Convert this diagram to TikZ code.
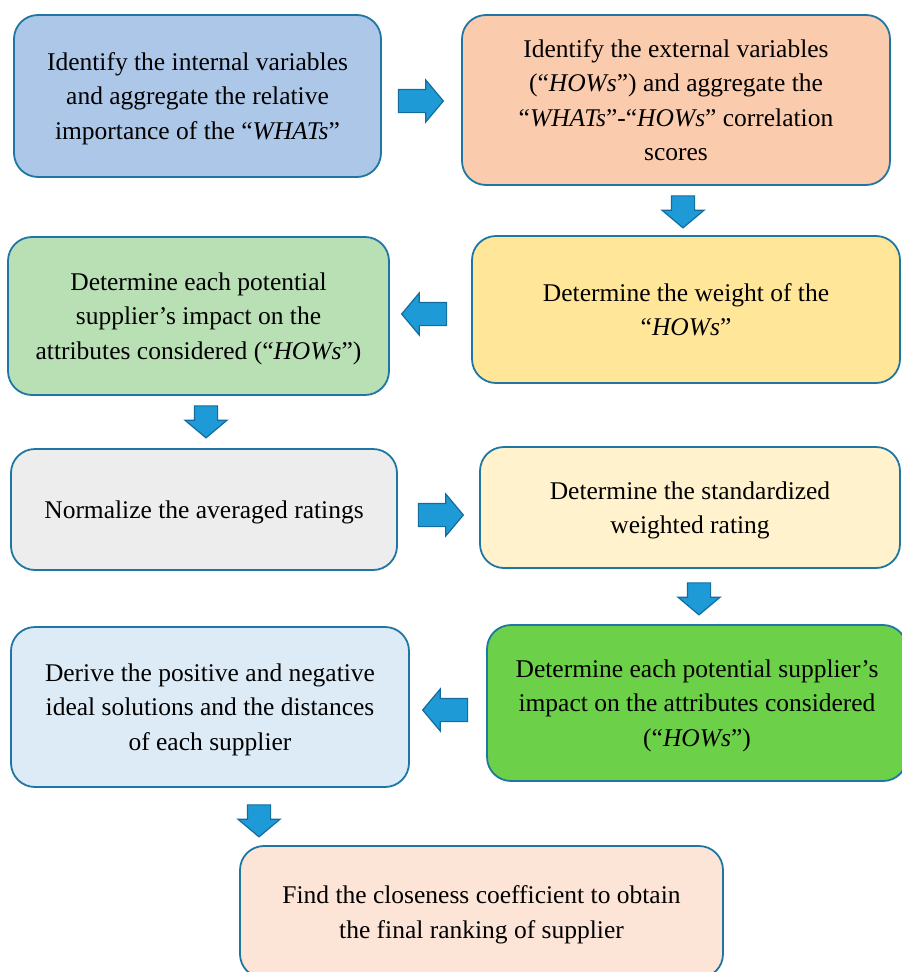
\documentclass[tikz,border=0pt]{standalone}
\usepackage{fontspec}
\setmainfont{Liberation Serif}
\usetikzlibrary{shapes.arrows}
\definecolor{edgeblue}{RGB}{30,118,163}
\definecolor{arrowfill}{RGB}{30,155,215}
\definecolor{arrowedge}{RGB}{20,108,158}
\definecolor{cwhats}{RGB}{173,199,232}
\definecolor{chows}{RGB}{251,203,173}
\definecolor{cimpact}{RGB}{185,224,180}
\definecolor{cweight}{RGB}{255,230,153}
\definecolor{cnorm}{RGB}{237,237,237}
\definecolor{cstand}{RGB}{255,242,204}
\definecolor{cimpacttwo}{RGB}{108,208,72}
\definecolor{cideal}{RGB}{221,235,247}
\definecolor{cclose}{RGB}{252,228,214}
\begin{document}
\begin{tikzpicture}[x=1pt,y=-1pt,
  stage/.style={draw=edgeblue, line width=1.8pt, rounded corners=24pt,
    align=center, inner sep=0pt, text depth=0pt, font=\fontsize{25.5}{34.5}\selectfont},
  blockarrow/.style={single arrow, fill=arrowfill, draw=arrowedge, line width=1.2pt,
    inner xsep=0pt, inner ysep=11pt, single arrow tip angle=100,
    single arrow head extend=9.5pt},
  rarrow/.style={blockarrow, minimum height=45pt},
  larrow/.style={blockarrow, minimum height=45pt, rotate=180},
  darrow/.style={blockarrow, minimum height=32pt, rotate=-90}]
  \useasboundingbox (0,0) rectangle (902,972);

  % boxes
  \node[stage, fill=cwhats, minimum width=367pt, minimum height=162pt] (whats) at (197.5,96)
    {Identify the internal variables\\and aggregate the relative\\importance of the “\textit{WHATs}”};
  \node[stage, fill=chows, minimum width=428pt, minimum height=170pt, text depth=-4pt] (hows) at (676,100)
    {Identify the external variables\\(“\textit{HOWs}”) and aggregate the\\“\textit{WHATs}”-“\textit{HOWs}” correlation\\scores};
  \node[stage, fill=cweight, minimum width=428pt, minimum height=147pt] (weight) at (686,309.5)
    {Determine the weight of the\\“\textit{HOWs}”};
  \node[stage, fill=cimpact, minimum width=381pt, minimum height=158pt] (impact) at (198.5,316)
    {Determine each potential\\supplier’s impact on the\\attributes considered (“\textit{HOWs}”)};
  \node[stage, fill=cnorm, minimum width=386pt, minimum height=121pt] (norm) at (204,509.5)
    {Normalize the averaged ratings};
  \node[stage, fill=cstand, minimum width=420pt, minimum height=121pt] (stand) at (690,507.5)
    {Determine the standardized\\weighted rating};
  \node[stage, fill=cimpacttwo, minimum width=420pt, minimum height=156pt] (impacttwo) at (697,703)
    {Determine each potential supplier’s\\impact on the attributes considered\\(“\textit{HOWs}”)};
  \node[stage, fill=cideal, minimum width=398pt, minimum height=160pt] (ideal) at (210,707)
    {Derive the positive and negative\\ideal solutions and the distances\\of each supplier};
  \node[stage, fill=cclose, minimum width=483pt, minimum height=132pt] (close) at (481.5,912)
    {Find the closeness coefficient to obtain\\the final ranking of supplier};

  % arrows
  \node[rarrow] (whats-hows) at (416,101) {};
  \node[darrow] (hows-weight) at (683,207) {};
  \node[larrow] (weight-impact) at (429,314) {};
  \node[darrow] (impact-norm) at (206,417) {};
  \node[rarrow] (norm-stand) at (436,515) {};
  \node[darrow] (stand-impacttwo) at (699,594) {};
  \node[larrow] (impacttwo-ideal) at (450,710) {};
  \node[darrow] (ideal-close) at (259,816) {};
\end{tikzpicture}
\end{document}
